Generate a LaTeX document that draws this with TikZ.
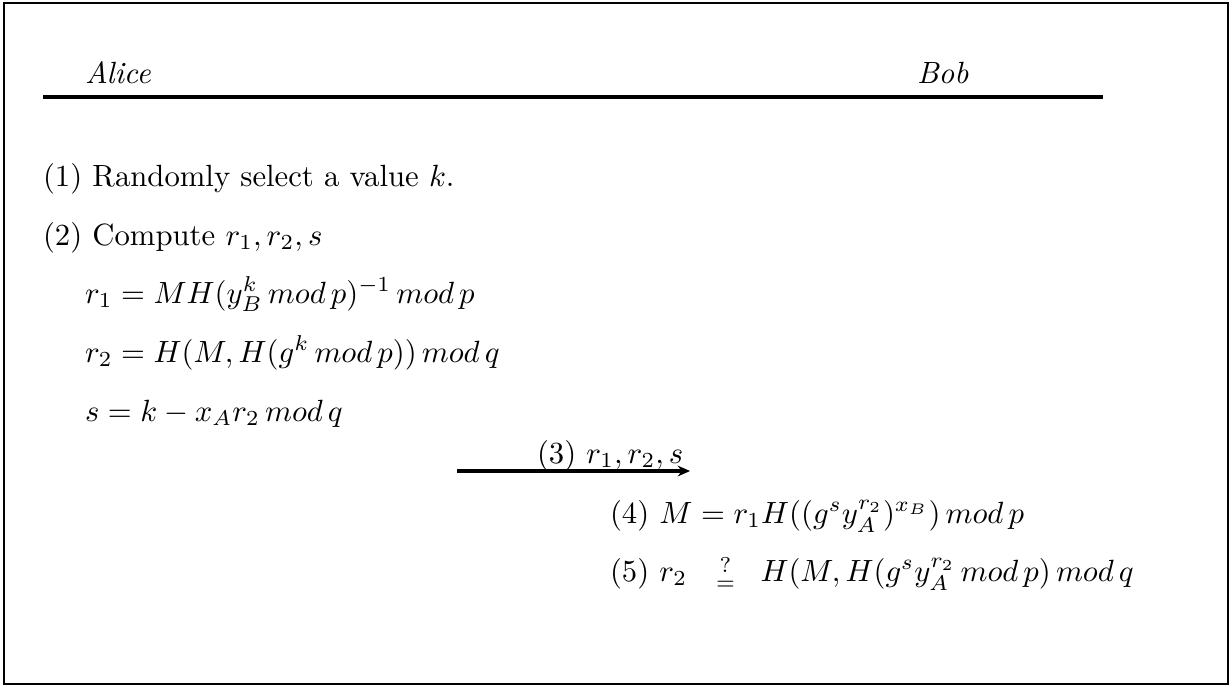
\documentclass[tikz,border=0pt]{standalone}
\usepackage{amsmath}
\usetikzlibrary{arrows.meta}
\begin{document}
\begin{tikzpicture}[x=0.3257pt,y=-0.3257pt,
  txt/.style={anchor=base west,inner sep=0pt,outer sep=0pt},
  frameline/.style={line width=0.8pt},
  headline/.style={line width=1.2pt},
  msg/.style={line width=1pt,-{Stealth[length=4pt,width=3.5pt]}}]
\useasboundingbox (0,0) rectangle (1232,687);
\draw[frameline] (4,3) rectangle (1228,684);
\node[txt] (alice) at (85,83) {\textit{Alice}};
\node[txt] (bob) at (917,83) {\textit{Bob}};
\coordinate (hl) at (43,97);
\coordinate (hr) at (1103,97);
\draw[headline] (hl) -- (hr);
\node[txt] (s1) at (43,186) {(1) Randomly select a value $k$.};
\node[txt] (s2) at (43,245) {(2) Compute $r_1, r_2, s$};
\node[txt] (e1) at (85,303) {$r_1 = MH(y_B^k\,mod\,p)^{-1}\,mod\,p$};
\node[txt] (e2) at (85,362) {$r_2 = H(M,H(g^k\,mod\,p))\,mod\,q$};
\node[txt] (e3) at (85,421) {$s = k - x_A r_2\,mod\,q$};
\node[txt] (s3) at (537,463) {(3) $r_1, r_2, s$};
\coordinate (al) at (457,471);
\coordinate (ar) at (690,471);
\draw[msg] (al) -- (ar);
\node[txt] (s4) at (610,523) {(4) $M = r_1H((g^s y_A^{r_2})^{x_B})\,mod\,p$};
\node[txt] (s5) at (610,581) {(5) $r_2\ \ \mathrel{\substack{?\\=}}\;\; H(M,H(g^s y_A^{r_2}\,mod\,p)\,mod\,q$};
\end{tikzpicture}
\end{document}
